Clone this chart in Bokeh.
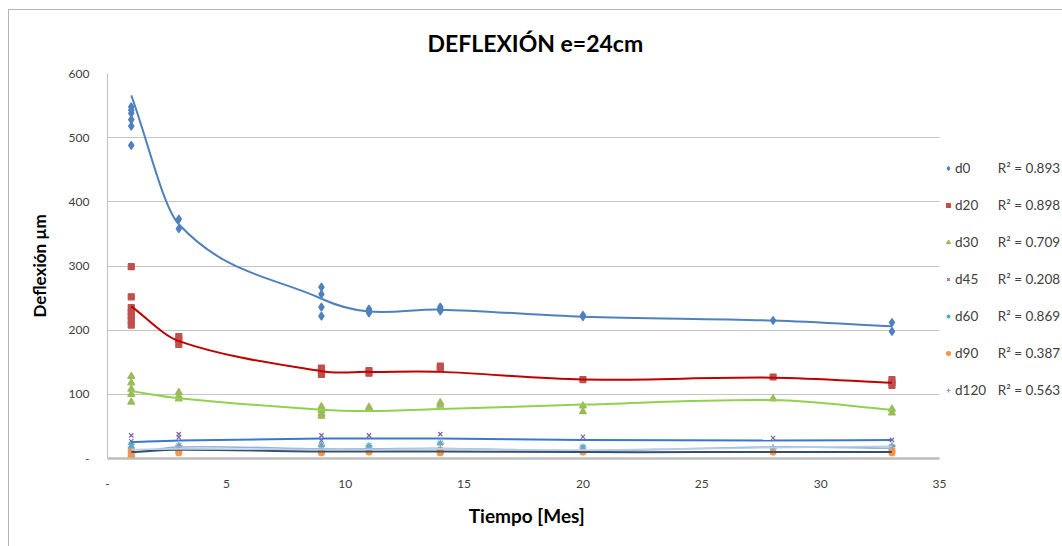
import numpy as np
from bokeh.plotting import figure
from bokeh.models import Range1d, FixedTicker, Legend, LegendItem
from bokeh.embed import file_html
from bokeh.resources import INLINE

# ---------------- data ----------------
d0_x = [1, 1, 1, 1, 1, 1, 3, 3, 9, 9, 9, 9, 11, 11, 11, 14, 14, 14, 20, 20, 28, 33, 33]
d0_y = [548, 543, 538, 528, 518, 488, 373, 358, 267, 256, 236, 222, 233, 230, 227, 236, 233, 230, 223, 221, 215, 212, 198]

d20_x = [1, 1, 1, 1, 1, 1, 1, 3, 3, 3, 9, 9, 9, 11, 11, 14, 14, 20, 28, 33, 33, 33]
d20_y = [299, 252, 235, 228, 222, 215, 208, 190, 185, 178, 141, 136, 131, 137, 133, 144, 140, 123, 127, 123, 118, 114]

d30_x = [1, 1, 1, 1, 1, 3, 3, 3, 9, 9, 9, 9, 11, 11, 14, 14, 20, 20, 28, 33, 33]
d30_y = [128, 118, 108, 100, 88, 103, 97, 93, 81, 75, 70, 66, 80, 78, 87, 83, 82, 73, 93, 77, 71]

d45_x = [1, 1, 1, 3, 3, 9, 9, 11, 14, 20, 28, 33]
d45_y = [36, 27, 20, 38, 33, 36, 28, 36, 38, 34, 32, 29]

d60_x = [1, 1, 3, 9, 11, 14, 20, 28, 33]
d60_y = [22, 16, 20, 21, 20, 24, 18, 15, 19]

d90_x = [1, 1, 1, 1, 3, 3, 9, 9, 11, 14, 14, 20, 28, 33, 33]
d90_y = [12, 8, 4, 1, 14, 9, 12, 9, 10, 13, 9, 10, 10, 13, 9]

d120_x = [1, 3, 9, 11, 14, 20, 28, 33]
d120_y = [17, 20, 19, 18, 22, 16, 17, 20]

# smoothed curves (values at each month)
curve_x = [1, 3, 9, 11, 14, 20, 28, 33]
d0_curve = [566, 365, 249, 229, 232, 221, 215, 206]
d20_curve = [237, 183, 136, 135, 135, 123, 126, 118]
d30_curve = [105, 94, 76, 74, 77, 84, 91, 76]
d45_curve = [25.5, 28, 31, 31, 31, 29, 28, 29]
d60_curve = [8, 18, 15, 15, 16, 12, 18, 16]
d90_curve = [10, 13.5, 11, 11, 11, 10, 10, 10]
d120_curve = [14, 15, 14, 14, 15, 13, 17, 19]

series_names = ["d0", "d20", "d30", "d45", "d60", "d90", "d120"]
r2_labels = ["R² = 0.893", "R² = 0.898", "R² = 0.709", "R² = 0.208", "R² = 0.869", "R² = 0.387", "R² = 0.563"]

x_ticks = [0, 5, 10, 15, 20, 25, 30, 35]
y_ticks = [0, 100, 200, 300, 400, 500, 600]
x_min, x_max = 0, 35
y_min, y_max = 0, 600

title_text = "DEFLEXIÓN e=24cm"
x_label = "Tiempo [Mes]"
y_label = "Deflexión µm"

# ---------------- styling ----------------
xs_all = [d0_x, d20_x, d30_x, d45_x, d60_x, d90_x, d120_x]
ys_all = [d0_y, d20_y, d30_y, d45_y, d60_y, d90_y, d120_y]
curves = [d0_curve, d20_curve, d30_curve, d45_curve, d60_curve, d90_curve, d120_curve]
markers = ["diamond", "square", "triangle", "x", "asterisk", "circle", "cross"]
msizes = [8, 6, 7, 6, 7, 6, 7]
mcolors = ["#4F81BD", "#C0504D", "#9BBB59", "#8064A2", "#4BACC6", "#F79646", "#7F9FC8"]
lcolors = ["#4F81BD", "#C00000", "#92D050", "#3C78C8", "#95B3D7", "#34506E", "#B9CDE5"]
lwidths = [2, 2, 2, 2, 1.6, 2, 1.6]

W, H = 1062, 546
FL, PR, FT, FB = 107, 939, 73, 458      # plot-area edges (pixels)
FONT = "Lato"

# the frame runs to the right edge so that the legend column can sit inside it;
# axis line and grid lines stop at the plot area's right edge (x = 35)
x_end = x_max * (W - FL) / (PR - FL)

p = figure(width=W, height=H, output_backend="svg", toolbar_location=None,
           x_range=Range1d(x_min, x_end), y_range=Range1d(y_min, y_max),
           min_border_left=FL, min_border_right=0,
           min_border_top=FT, min_border_bottom=H - FB)

p.border_fill_alpha = 0
p.background_fill_color = "white"
p.outline_line_color = None
p.styles = {"background-color": "white",
            "box-shadow": "inset 8px 9px 0 0 #ffffff, inset 9px 10px 0 0 #b4b4b4"}

p.title.text = title_text
p.title.align = "left"
p.title.offset = 320
p.title.text_font = FONT
p.title.text_font_style = "bold"
p.title.text_font_size = "23px"
p.title.text_color = "#000000"
p.title.standoff = 34

p.xgrid.grid_line_color = None
grid = p.ygrid[0]
grid.ticker = FixedTicker(ticks=y_ticks)
if "cross_bounds" in grid.properties():
    grid.cross_bounds = (x_min, x_max)
    grid.grid_line_color = "#c4c4c4"
    grid.grid_line_width = 1.2
else:
    grid.grid_line_color = None
    p.segment(x0=[x_min] * len(y_ticks), y0=y_ticks, x1=[x_max] * len(y_ticks), y1=y_ticks,
              line_color="#c4c4c4", line_width=1.2, level="underlay")

p.xaxis.ticker = FixedTicker(ticks=x_ticks)
p.yaxis.ticker = FixedTicker(ticks=y_ticks)
p.xaxis.bounds = (x_min, x_max)
p.xaxis.major_label_overrides = {0: "-"}
p.yaxis.major_label_overrides = {0: "-"}
for ax in (p.xaxis, p.yaxis):
    ax.major_tick_line_color = None
    ax.minor_tick_line_color = None
    ax.major_tick_out = 0
    ax.major_tick_in = 0
    ax.major_label_text_font = FONT
    ax.major_label_text_font_size = "12px"
    ax.major_label_text_color = "#404040"
    ax.axis_label_text_font = FONT
    ax.axis_label_text_font_style = "bold"
    ax.axis_label_text_color = "#000000"
p.xaxis.axis_line_color = "#bdbdbd"
p.xaxis.axis_line_width = 2.5
p.yaxis.axis_line_color = "#c4c4c4"
p.yaxis.axis_line_width = 1.2
p.xaxis.major_label_standoff = 21
p.yaxis.major_label_standoff = 18
# the x label is centred under the plot area (not under the wider frame):
# trailing em spaces shift its centre left by half their width
p.xaxis.axis_label = x_label + "\u2003" * 8 + "\u2009"
p.yaxis.axis_label = y_label
p.xaxis.axis_label_text_font_size = "19px"
p.yaxis.axis_label_text_font_size = "17px"
p.xaxis.axis_label_standoff = 13
p.yaxis.axis_label_standoff = 16

scatter_renderers = []
for i in range(len(series_names)):
    r = p.scatter(xs_all[i], ys_all[i], marker=markers[i], size=msizes[i],
                  fill_color=mcolors[i], line_color=mcolors[i], line_width=1.2)
    scatter_renderers.append(r)

# smooth curves (cubic Hermite segments) drawn with Bokeh's bezier glyph
cx = np.array(curve_x, dtype=float)
n = len(cx)
for i in range(len(series_names)):
    cy = np.array(curves[i], dtype=float)
    slopes = []
    for k in range(n):
        a = k - 1 if k > 0 else k
        b = k + 1 if k + 1 < n else k
        slopes.append((cy[b] - cy[a]) / (cx[b] - cx[a]))
    x0, y0, x1, y1, c0x, c0y, c1x, c1y = [], [], [], [], [], [], [], []
    for k in range(n - 1):
        h = cx[k + 1] - cx[k]
        x0.append(cx[k]); y0.append(cy[k]); x1.append(cx[k + 1]); y1.append(cy[k + 1])
        c0x.append(cx[k] + h / 3.0); c0y.append(cy[k] + slopes[k] * h / 3.0)
        c1x.append(cx[k + 1] - h / 3.0); c1y.append(cy[k + 1] - slopes[k + 1] * h / 3.0)
    p.bezier(x0=x0, y0=y0, x1=x1, y1=y1, cx0=c0x, cy0=c0y, cx1=c1x, cy1=c1y,
             line_color=lcolors[i], line_width=lwidths[i])

# legend: marker + name, then the R² text in a second column
FIG = "\u2007"
labels = []
for name, r2 in zip(series_names, r2_labels):
    labels.append(name + FIG * (4 - len(name)) + "\u2003\u2009" + r2)

legend = Legend(items=[LegendItem(label=labels[i], renderers=[scatter_renderers[i]])
                       for i in range(len(series_names))],
                location=(943 - FL, FB - 400), orientation="vertical",
                glyph_width=10, glyph_height=20, label_height=20, spacing=17,
                padding=0, margin=0, label_standoff=2,
                border_line_color=None, background_fill_alpha=0,
                label_text_font=FONT, label_text_font_size="13.5px", label_text_color="#404040")
p.add_layout(legend)

open("out.html", "w").write(file_html(p, INLINE))
